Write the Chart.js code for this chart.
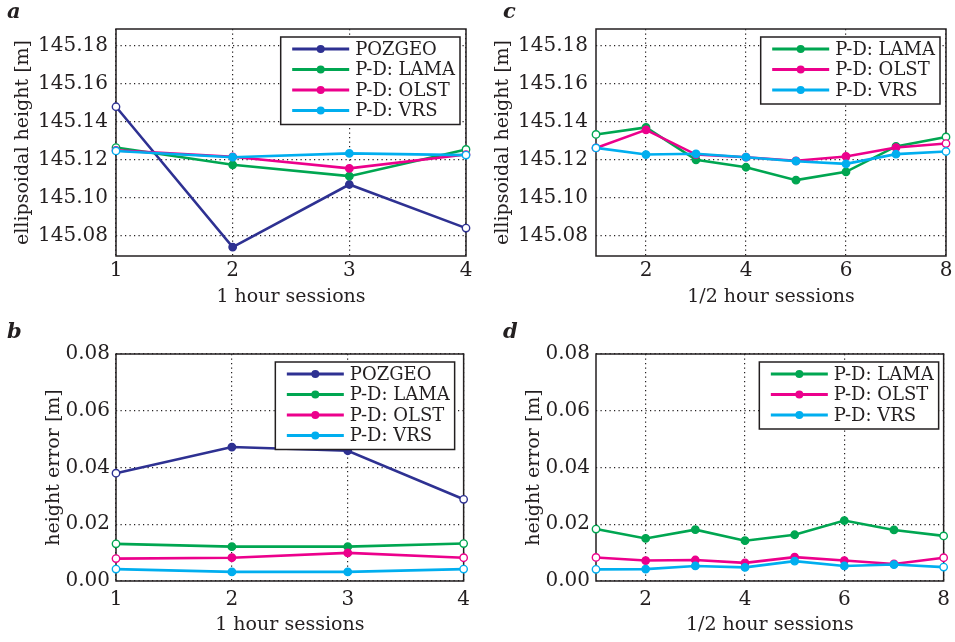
<!DOCTYPE html>
<html>
<head>
<meta charset="utf-8">
<script src="https://cdn.jsdelivr.net/npm/chart.js@4/dist/chart.umd.min.js"></script>
<style>
    body { margin: 0; background: #fff; }
    #page { position: relative; width: 955px; height: 642px; overflow: hidden; }
    canvas { position: absolute; }
</style>
</head>
<body>
<div id="page">
    <canvas id="panelA" width="477" height="320" style="left:0;top:0"></canvas>
    <canvas id="panelC" width="477" height="320" style="left:480px;top:0"></canvas>
    <canvas id="panelB" width="477" height="322" style="left:0;top:320px"></canvas>
    <canvas id="panelD" width="477" height="322" style="left:480px;top:320px"></canvas>
</div>
<script>
// sessions and tick labels
const hourSessions = [1, 2, 3, 4];
const halfHourSessions = [1, 2, 3, 4, 5, 6, 7, 8];
const hourTicks = [1, 2, 3, 4];
const halfHourTicks = [2, 4, 6, 8];
const heightTicks = [145.08, 145.10, 145.12, 145.14, 145.16, 145.18];
const errorTicks = [0, 0.02, 0.04, 0.06, 0.08];

// series names and colours
const seriesNames = ['POZGEO', 'P-D: LAMA', 'P-D: OLST', 'P-D: VRS'];
const seriesColors = ['#2e3192', '#00a651', '#ec008c', '#00aeef'];

// a: ellipsoidal height, 1 hour sessions
const hourHeightPozgeo = [145.148, 145.074, 145.107, 145.084];
const hourHeightLama = [145.1265, 145.1174, 145.1114, 145.1255];
const hourHeightOlst = [145.125, 145.1216, 145.1155, 145.1228];
const hourHeightVrs = [145.1247, 145.1214, 145.1234, 145.1225];

// c: ellipsoidal height, 1/2 hour sessions
const halfHeightLama = [145.1334, 145.1371, 145.12, 145.1161, 145.1093, 145.1137, 145.1271, 145.1321];
const halfHeightOlst = [145.1263, 145.1358, 145.1228, 145.1214, 145.1195, 145.1218, 145.1265, 145.1286];
const halfHeightVrs = [145.1263, 145.1228, 145.1232, 145.1214, 145.1193, 145.1179, 145.123, 145.1244];

// b: height error, 1 hour sessions
const hourErrorPozgeo = [0.038, 0.0472, 0.0459, 0.0288];
const hourErrorLama = [0.0131, 0.0121, 0.0121, 0.0132];
const hourErrorOlst = [0.0079, 0.0082, 0.0099, 0.0082];
const hourErrorVrs = [0.0042, 0.0032, 0.0032, 0.0042];

// d: height error, 1/2 hour sessions
const halfErrorLama = [0.0183, 0.015, 0.0181, 0.0142, 0.0163, 0.0213, 0.018, 0.0159];
const halfErrorOlst = [0.0083, 0.0072, 0.0074, 0.0064, 0.0084, 0.0072, 0.006, 0.0082];
const halfErrorVrs = [0.0041, 0.0042, 0.0053, 0.0048, 0.007, 0.0053, 0.0058, 0.0049];

const serif = "'DejaVu Serif', serif";
const textColor = '#231f20';

// frame, boxed legend and panel letter
const panelDecor = {
    id: 'panelDecor',
    beforeDatasetsDraw(chart) {
        const a = chart.chartArea;
        const ctx = chart.ctx;
        ctx.save();
        ctx.strokeStyle = textColor;
        ctx.lineWidth = 1.5;
        ctx.strokeRect(a.left, a.top, a.right - a.left, a.bottom - a.top);
        ctx.restore();
    },
    afterDraw(chart, args, opts) {
        const a = chart.chartArea;
        const ctx = chart.ctx;
        const sets = chart.data.datasets;
        ctx.save();

        // panel letter
        ctx.font = 'italic bold 21px ' + serif;
        ctx.fillStyle = textColor;
        ctx.textBaseline = 'alphabetic';
        ctx.fillText(opts.letter, opts.letterX, 17.5);

        // legend
        ctx.font = '18px ' + serif;
        let textW = 0;
        sets.forEach(ds => { textW = Math.max(textW, ctx.measureText(ds.label).width); });
        const rowH = 20.5;
        const boxW = 11.5 + 57 + 6 + textW + 5;
        const boxH = 12 + (sets.length - 1) * rowH + 14;
        const right = a.right - opts.rightGap;
        const left = right - boxW;
        const top = a.top + 8;
        ctx.fillStyle = '#fff';
        ctx.fillRect(left, top, boxW, boxH);
        ctx.strokeStyle = textColor;
        ctx.lineWidth = 1.5;
        ctx.strokeRect(left, top, boxW, boxH);
        sets.forEach((ds, i) => {
            const y = top + 12 + i * rowH;
            ctx.strokeStyle = ds.borderColor;
            ctx.lineWidth = 3;
            ctx.beginPath();
            ctx.moveTo(left + 11.5, y);
            ctx.lineTo(left + 68.5, y);
            ctx.stroke();
            ctx.fillStyle = ds.borderColor;
            ctx.beginPath();
            ctx.arc(left + 40, y, 4, 0, Math.PI * 2);
            ctx.fill();
            ctx.fillStyle = textColor;
            ctx.textBaseline = 'middle';
            ctx.fillText(ds.label, left + 74.5, y + 1);
        });
        ctx.restore();
    }
};

function makeSeries(xs, ys, nameIndex) {
    const color = seriesColors[nameIndex];
    const fills = ys.map((v, i) => (i === 0 || i === ys.length - 1) ? '#fff' : color);
    return {
        label: seriesNames[nameIndex],
        data: xs.map((x, i) => ({ x: x, y: ys[i] })),
        borderColor: color,
        backgroundColor: color,
        borderWidth: 2.6,
        pointRadius: 3.7,
        pointBorderWidth: 1.4,
        pointBackgroundColor: fills,
        pointBorderColor: color,
        order: 3 - nameIndex,
        clip: false,
        tension: 0
    };
}

function makePanel(id, cfg) {
    new Chart(document.getElementById(id), {
        type: 'line',
        data: { datasets: cfg.datasets },
        plugins: [panelDecor],
        options: {
            responsive: false,
            animation: false,
            events: [],
            layout: { padding: { top: cfg.padTop, right: 11, left: 0, bottom: 0 } },
            plugins: {
                legend: { display: false },
                tooltip: { enabled: false },
                panelDecor: { letter: cfg.letter, letterX: cfg.letterX, rightGap: cfg.legendGap }
            },
            scales: {
                x: {
                    type: 'linear',
                    min: cfg.xMin,
                    max: cfg.xMax,
                    afterBuildTicks: s => { s.ticks = cfg.xTicks.map(v => ({ value: v })); },
                    afterFit: s => { s.height = cfg.xHeight; },
                    grid: { color: textColor, lineWidth: 1.2, drawTicks: false },
                    border: { display: false, dash: [1.2, 3.3] },
                    ticks: { color: textColor, padding: cfg.xTickPad, maxRotation: 0, font: { family: serif, size: 20 } },
                    title: {
                        display: true, text: cfg.xTitle, color: textColor,
                        font: { family: serif, size: 19 }, padding: { top: 0, bottom: cfg.xTitlePad }
                    }
                },
                y: {
                    type: 'linear',
                    min: cfg.yMin,
                    max: cfg.yMax,
                    afterBuildTicks: s => { s.ticks = cfg.yTicks.map(v => ({ value: v })); },
                    afterFit: s => { s.width = 116; },
                    grid: { color: textColor, lineWidth: 1.2, drawTicks: false },
                    border: { display: false, dash: [1.2, 3.3] },
                    ticks: {
                        color: textColor, padding: cfg.yTickPad, font: { family: serif, size: 20 },
                        callback: v => v.toFixed(2)
                    },
                    title: {
                        display: true, text: cfg.yTitle, color: textColor,
                        font: { family: serif, size: 19 }, padding: { top: cfg.yTitlePad, bottom: 0 }
                    }
                }
            }
        }
    });
}

makePanel('panelA', {
    letter: 'a', letterX: 7, legendGap: 6, padTop: 29, xHeight: 64,
    xMin: 1, xMax: 4, xTicks: hourTicks, xTickPad: 3, xTitlePad: 11.5, xTitle: '1 hour sessions',
    yMin: 145.0693, yMax: 145.189, yTicks: heightTicks, yTickPad: 8, yTitlePad: 12, yTitle: 'ellipsoidal height [m]',
    datasets: [
        makeSeries(hourSessions, hourHeightPozgeo, 0),
        makeSeries(hourSessions, hourHeightLama, 1),
        makeSeries(hourSessions, hourHeightOlst, 2),
        makeSeries(hourSessions, hourHeightVrs, 3)
    ]
});

makePanel('panelC', {
    letter: 'c', letterX: 23, legendGap: 6, padTop: 29, xHeight: 64,
    xMin: 1, xMax: 8, xTicks: halfHourTicks, xTickPad: 3, xTitlePad: 11.5, xTitle: '1/2 hour sessions',
    yMin: 145.0693, yMax: 145.189, yTicks: heightTicks, yTickPad: 8, yTitlePad: 12, yTitle: 'ellipsoidal height [m]',
    datasets: [
        makeSeries(halfHourSessions, halfHeightLama, 1),
        makeSeries(halfHourSessions, halfHeightOlst, 2),
        makeSeries(halfHourSessions, halfHeightVrs, 3)
    ]
});

makePanel('panelB', {
    letter: 'b', letterX: 7, legendGap: 9, padTop: 34, xHeight: 61,
    xMin: 1, xMax: 4, xTicks: hourTicks, xTickPad: 7, xTitlePad: 6, xTitle: '1 hour sessions',
    yMin: 0, yMax: 0.08, yTicks: errorTicks, yTickPad: 6, yTitlePad: 42.5, yTitle: 'height error [m]',
    datasets: [
        makeSeries(hourSessions, hourErrorPozgeo, 0),
        makeSeries(hourSessions, hourErrorLama, 1),
        makeSeries(hourSessions, hourErrorOlst, 2),
        makeSeries(hourSessions, hourErrorVrs, 3)
    ]
});

makePanel('panelD', {
    letter: 'd', letterX: 23, legendGap: 5, padTop: 34, xHeight: 61,
    xMin: 1, xMax: 8, xTicks: halfHourTicks, xTickPad: 7, xTitlePad: 6, xTitle: '1/2 hour sessions',
    yMin: 0, yMax: 0.08, yTicks: errorTicks, yTickPad: 6, yTitlePad: 42.5, yTitle: 'height error [m]',
    datasets: [
        makeSeries(halfHourSessions, halfErrorLama, 1),
        makeSeries(halfHourSessions, halfErrorOlst, 2),
        makeSeries(halfHourSessions, halfErrorVrs, 3)
    ]
});
</script>
</body>
</html>
